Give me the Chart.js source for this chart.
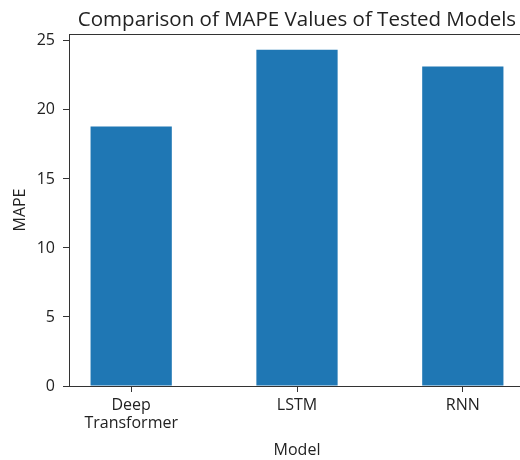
<!DOCTYPE html>
<html>
<head>
<meta charset="utf-8">
<title>MAPE comparison</title>
<script src="https://cdn.jsdelivr.net/npm/chart.js@4.4.0/dist/chart.umd.min.js"></script>
<style>
    html, body { margin: 0; padding: 0; background: #fff; overflow: hidden; }
    #wrap { width: 530px; height: 460px; }
</style>
</head>
<body>
<div id="wrap"><canvas id="mapeChart" width="530" height="460"></canvas></div>
<script>
// data
const models = [['Deep', 'Transformer'], 'LSTM', 'RNN'];
const mapeValues = [18.8, 24.35, 23.15];
const yTicks = [0, 5, 10, 15, 20, 25];
const chartTitle = 'Comparison of MAPE Values of Tested Models';

const axisColor = '#333';
const textColor = '#222';
const font = { family: 'Open Sans', size: 16 };

// matplotlib-style top spine + title centred over the axes
const axesDecor = {
    id: 'axesDecor',
    afterDraw(chart) {
        const { ctx, chartArea } = chart;
        ctx.save();
        ctx.strokeStyle = axisColor;
        ctx.lineWidth = 1;
        ctx.beginPath();
        ctx.moveTo(chartArea.left, chartArea.top + 0.5);
        ctx.lineTo(chartArea.right, chartArea.top + 0.5);
        ctx.stroke();

        ctx.fillStyle = textColor;
        ctx.font = '20.5px "Open Sans"';
        ctx.textAlign = 'center';
        ctx.textBaseline = 'alphabetic';
        ctx.fillText(chartTitle, (chartArea.left + chartArea.right) / 2, 26);
        ctx.restore();
    }
};

function renderChart() {
    const ctx = document.getElementById('mapeChart').getContext('2d');
    new Chart(ctx, {
        type: 'bar',
        data: {
            datasets: [{
                label: 'MAPE',
                data: mapeValues.map((v, i) => ({ x: i, y: v })),
                backgroundColor: '#1f77b4',
                borderWidth: 0,
                barPercentage: 0.49,
                categoryPercentage: 1
            }]
        },
        options: {
            responsive: false,
            animation: false,
            layout: { padding: { left: 0, right: 5, top: 34, bottom: 0 } },
            plugins: {
                legend: { display: false },
                tooltip: { enabled: false },
                title: { display: false }
            },
            scales: {
                x: {
                    type: 'linear',
                    offset: false,
                    min: -0.375,
                    max: 2.375,
                    afterBuildTicks: s => { s.ticks = models.map((m, i) => ({ value: i })); },
                    afterFit: s => { s.height = 74; },
                    ticks: {
                        color: textColor,
                        font: Object.assign({ lineHeight: 1.1 }, font),
                        padding: 5,
                        maxRotation: 0,
                        includeBounds: false,
                        callback: (v) => models[v]
                    },
                    grid: { offset: false, drawOnChartArea: false, drawTicks: true, tickLength: 6, color: axisColor },
                    border: { display: true, color: axisColor },
                    title: { display: true, text: 'Model', color: textColor, font: font, padding: { top: 17, bottom: 0 } }
                },
                y: {
                    min: 0,
                    max: 25.5,
                    afterBuildTicks: s => { s.ticks = yTicks.map(v => ({ value: v })); },
                    afterFit: s => { s.width = 69; },
                    ticks: { color: textColor, font: font, padding: 8, includeBounds: false },
                    grid: { drawOnChartArea: false, drawTicks: true, tickLength: 6, color: axisColor },
                    border: { display: true, color: axisColor },
                    title: { display: true, text: 'MAPE', color: textColor, font: font, padding: { top: 11, bottom: 0 } }
                }
            }
        },
        plugins: [axesDecor]
    });
}

renderChart();
</script>
</body>
</html>
